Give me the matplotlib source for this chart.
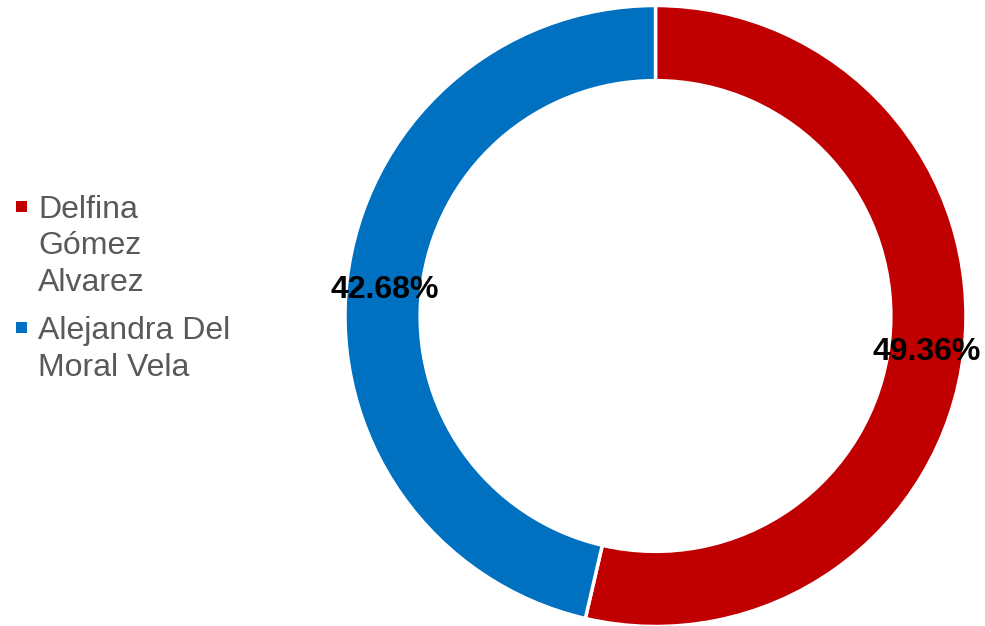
import matplotlib.pyplot as plt
from matplotlib.patches import Rectangle

# data
names = ["Delfina\nGómez\nAlvarez", "Alejandra Del\nMoral Vela"]
shares = [49.36, 42.68]
colors = ["#C00000", "#0070C0"]

plt.rcParams['font.family'] = ['Liberation Sans', 'DejaVu Sans']

fig = plt.figure(figsize=(9.85, 6.26), dpi=100)
ax = fig.add_axes([(655.5 - 310.5) / 985, (310 - 310.5) / 626, 621 / 985, 621 / 626])

wedges, _, autotexts = ax.pie(shares, colors=colors, startangle=90, counterclock=False,
                              radius=1.0, autopct=lambda p: "", pctdistance=0.879,
                              wedgeprops=dict(width=0.242, edgecolor="white", linewidth=2.5))
for t, v in zip(autotexts, shares):
    t.set_text(f"{v:.2f}%")
    t.set_fontsize(23)
    t.set_fontweight("bold")
    t.set_color("black")
    x, y = t.get_position()
    t.set_position((x, y - 0.016))
ax.set_xlim(-1, 1)
ax.set_ylim(-1, 1)
ax.set_aspect("equal")
ax.axis("off")

# legend drawn by hand, one line at a time
first_baseline = [218, 339]
line_step = 36.5
for name, c, yb in zip(names, colors, first_baseline):
    fig.patches.append(Rectangle((16 / 985, 1 - (yb - 6) / 626), 11 / 985, 11 / 626,
                                 transform=fig.transFigure, facecolor=c, edgecolor="none"))
    for i, line in enumerate(name.split("\n")):
        fig.text(38 / 985, 1 - (yb + i * line_step) / 626, line, fontsize=23,
                 color="#595959", ha="left", va="baseline")

fig.savefig("out.png", dpi=100)
